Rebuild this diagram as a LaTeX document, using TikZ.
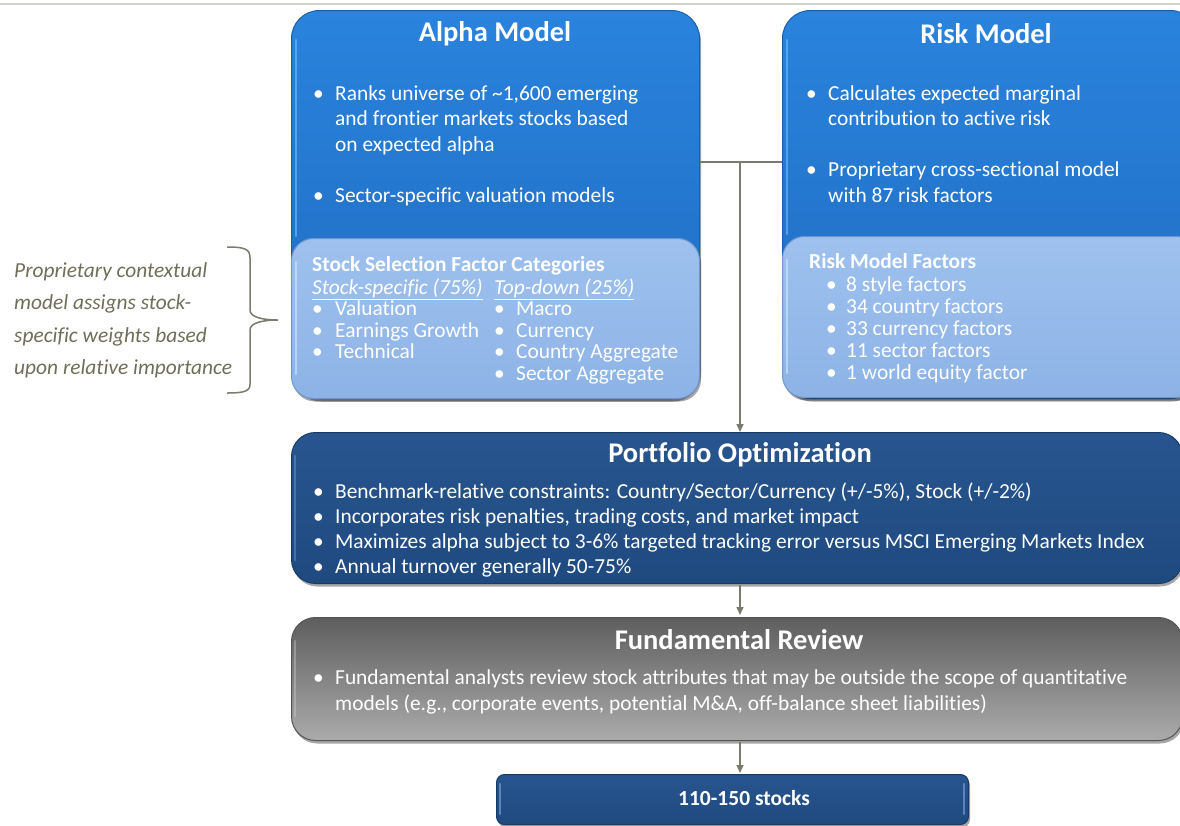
\documentclass[tikz,border=0pt]{standalone}
\usepackage{fontspec}
\setmainfont{Carlito}[Ligatures=NoCommon]
\usetikzlibrary{shadows,arrows.meta}
\definecolor{blueTop}{HTML}{2A83DD}
\definecolor{blueBot}{HTML}{1F6BBF}
\definecolor{blueEdge}{HTML}{1C5FA8}
\definecolor{blueHi}{HTML}{7CC4FF}
\definecolor{lightTop}{HTML}{9EC1EE}
\definecolor{lightBot}{HTML}{8DB3E6}
\definecolor{lightEdge}{HTML}{6F97CC}
\definecolor{lightHi}{HTML}{D8EEFF}
\definecolor{navyTop}{HTML}{28558F}
\definecolor{navyBot}{HTML}{1F4A80}
\definecolor{navyEdge}{HTML}{173A66}
\definecolor{navyHi}{HTML}{7FA8DD}
\definecolor{grayTop}{HTML}{5E5E5E}
\definecolor{grayBot}{HTML}{ABABAB}
\definecolor{grayEdge}{HTML}{555555}
\definecolor{grayHi}{HTML}{D0D0D0}
\definecolor{conn}{HTML}{7A7B6C}
\definecolor{sidetxt}{HTML}{6E6E5A}
\definecolor{rule}{HTML}{D3D3CB}
\newcommand{\bul}[1][22pt]{\makebox[#1][l]{•}}
\newcommand{\ind}[1][22pt]{\makebox[#1]{}}
\tikzset{
  shadowed/.style={drop shadow={shadow xshift=1.5pt, shadow yshift=-3pt, opacity=0.35, fill=black}},
  bluebox/.style={shadowed, rounded corners=28pt, top color=blueTop, bottom color=blueBot, draw=blueEdge, line width=1pt, inner sep=0pt, anchor=north west},
  lightbox/.style={shadowed, rounded corners=22pt, top color=lightTop, bottom color=lightBot, draw=lightEdge, line width=1pt, inner sep=0pt, anchor=north west},
  navybox/.style={shadowed, rounded corners=24pt, top color=navyTop, bottom color=navyBot, draw=navyEdge, line width=1pt, inner sep=0pt, anchor=north west},
  graybox/.style={shadowed, rounded corners=24pt, top color=grayTop, bottom color=grayBot, draw=grayEdge, line width=1pt, inner sep=0pt, anchor=north west},
  hilite/.style={line width=2.5pt, opacity=0.55, line cap=round},
  title/.style={text=white, font=\fontsize{28.5}{32}\selectfont\bfseries, inner sep=0pt},
  body/.style={text=white, font=\fontsize{21.4}{25.5}\selectfont, align=left, inner sep=0pt, anchor=base west},
  fbody/.style={text=white, font=\fontsize{21.4}{21.6}\selectfont, align=left, inner sep=0pt, anchor=base west},
  side/.style={text=sidetxt, font=\fontsize{21.4}{32.6}\selectfont\itshape, align=left, inner sep=0pt, anchor=base west},
  link/.style={draw=conn, line width=1.5pt},
  arrow/.style={link, -{Triangle[length=8pt,width=7pt]}},
}
\begin{document}
\begin{tikzpicture}[x=1pt,y=-1pt]
\useasboundingbox (0,0) rectangle (1180,825);
\clip (0,0) rectangle (1180,825);
\draw[rule, line width=2pt] (0,4) -- (1180,4);

% Alpha model
\node[bluebox, minimum width=408pt, minimum height=388pt] (alpha) at (291,10) {};
\draw[hilite, draw=blueHi] (296,40) -- (296,236);
\node[lightbox, minimum width=408pt, minimum height=160pt] (alphaf) at (291,238) {};
\draw[hilite, draw=lightHi] (296,262) -- (296,374);
\node[title] (alphat) at (495,34) {Alpha Model};
\node[body] (alphab) at (313,202) {\bul Ranks universe of \textasciitilde1,600 emerging\\ \ind and frontier markets stocks based\\ \ind on expected alpha\\[25.5pt] \bul Sector-specific valuation models};
\node[fbody, font=\fontsize{21.4}{21.6}\selectfont\bfseries] (alphafh) at (312,271) {Stock Selection Factor Categories};
\node[fbody] (alphafl) at (312,358.8) {\underline{\itshape Stock-specific (75\%)}\\ \bul[23pt]Valuation\\ \bul[23pt]Earnings Growth\\ \bul[23pt]Technical};
\node[fbody] (alphafr) at (494,380.4) {\underline{\itshape Top-down (25\%)}\\ \bul Macro\\ \bul Currency\\ \bul Country Aggregate\\ \bul Sector Aggregate};

% Risk model
\node[bluebox, minimum width=416pt, minimum height=388pt] (risk) at (782,10) {};
\draw[hilite, draw=blueHi] (787,40) -- (787,234);
\node[lightbox, minimum width=416pt, minimum height=161pt] (riskf) at (782,236) {};
\draw[hilite, draw=lightHi] (787,260) -- (787,373);
\node[title] (riskt) at (986,34) {Risk Model};
\node[body] (riskb) at (806,202) {\bul Calculates expected marginal\\ \ind contribution to active risk\\[25.5pt] \bul Proprietary cross-sectional model\\ \ind with 87 risk factors};
\node[fbody, font=\fontsize{21.4}{21.6}\selectfont\bfseries] (riskfh) at (809,268) {Risk Model Factors};
\node[fbody, font=\fontsize{21.4}{22}\selectfont] (riskfb) at (826,379) {\bul[20pt]8 style factors\\ \bul[20pt]34 country factors\\ \bul[20pt]33 currency factors\\ \bul[20pt]11 sector factors\\ \bul[20pt]1 world equity factor};

% Side note
\node[side] (note) at (14,374.8) {Proprietary contextual\\ model assigns stock-\\ specific weights based\\ upon relative importance};
\draw[conn, line width=1.5pt] (227,247) .. controls (245,247) and (250,249) .. (250,258) -- (250,310) .. controls (250,317) and (262,320) .. (278,320) .. controls (262,320) and (250,323) .. (250,330) -- (250,384) .. controls (250,391) and (245,393) .. (227,393);

% Portfolio optimization
\node[navybox, minimum width=891pt, minimum height=151pt] (port) at (291,432) {};
\draw[hilite, draw=navyHi, opacity=0.4] (295,456) -- (295,560);
\node[title] (portt) at (740,455) {Portfolio Optimization};
\node[body, font=\fontsize{21.4}{25}\selectfont] (portb) at (313,573) {\bul Benchmark-relative constraints: Country/Sector/Currency (+/-5\%), Stock (+/-2\%)\\ \bul Incorporates risk penalties, trading costs, and market impact\\ \bul Maximizes alpha subject to 3-6\% targeted tracking error versus MSCI Emerging Markets Index\\ \bul Annual turnover generally 50-75\%};

% Fundamental review
\node[graybox, minimum width=891pt, minimum height=123pt] (fund) at (291,617) {};
\draw[hilite, draw=grayHi, opacity=0.4] (295,641) -- (295,716);
\node[title] (fundt) at (739,640) {Fundamental Review};
\node[body, font=\fontsize{21.4}{26}\selectfont] (fundb) at (313,710) {\bul Fundamental analysts review stock attributes that may be outside the scope of quantitative\\ \ind models (e.g., corporate events, potential M\&A, off-balance sheet liabilities)};

% Result
\node[navybox, rounded corners=8pt, minimum width=472pt, minimum height=50pt] (result) at (496,774) {};
\draw[hilite, draw=navyHi, opacity=0.6] (500,784) -- (500,814);
\draw[hilite, draw=navyHi, opacity=0.6] (964,784) -- (964,814);
\node[title, font=\fontsize{21.5}{24}\selectfont\bfseries] (resultt) at (744,798) {110-150 stocks};

% Connectors
\coordinate (j) at (740,162);
\draw[link] (alpha.east |- j) -- (risk.west |- j);
\draw[arrow] (j) -- (j |- port.north);
\draw[arrow] (j |- port.south) ++(0,1) -- ([yshift=2pt]j |- fund.north);
\draw[arrow] (j |- fund.south) ++(0,1) -- ([yshift=1pt]j |- result.north);
\end{tikzpicture}
\end{document}
